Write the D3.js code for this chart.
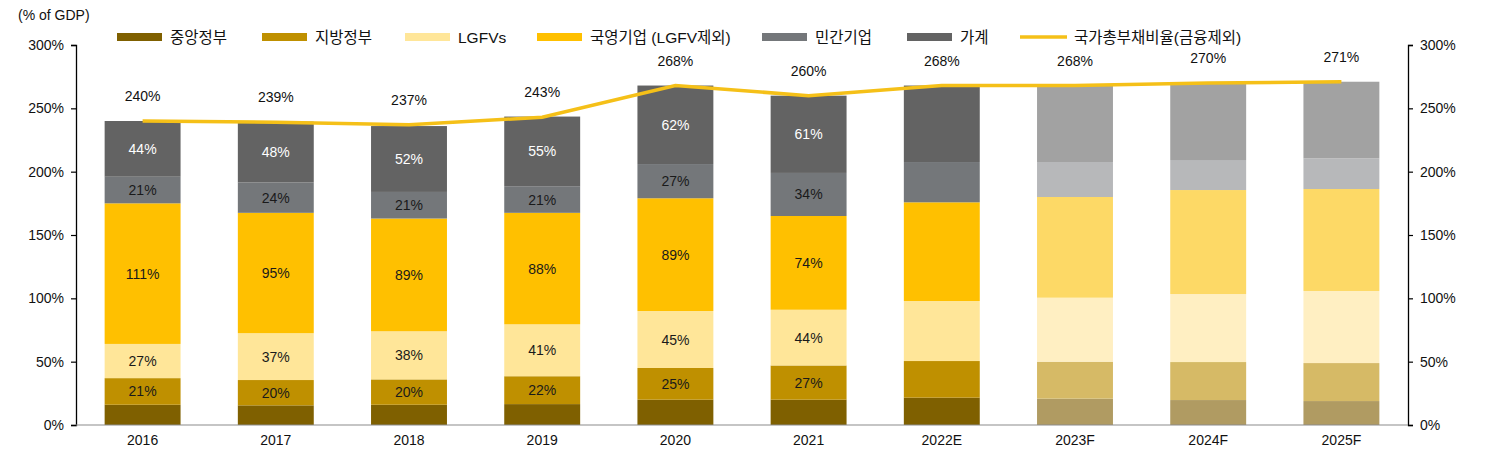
<!DOCTYPE html>
<html>
<head>
<meta charset="utf-8">
<script src="https://cdn.jsdelivr.net/npm/d3@7"></script>
<style>
  body { margin: 0; background: #fff; }
  svg text { font-family: "Liberation Sans", Arial, "Noto Sans CJK KR", sans-serif; }
</style>
</head>
<body>
<svg id="chart" width="1494" height="461"></svg>
<script>

// 연도
const years = ["2016", "2017", "2018", "2019", "2020", "2021", "2022E", "2023F", "2024F", "2025F"];

// 부문별 부채 (% of GDP)
const central   = [16, 15.5, 16, 16.5, 20, 20, 21.6, 20.8, 19.7, 18.9];
const local     = [21, 20, 20, 22, 25, 27, 28.9, 29.2, 30.0, 30.0];
const lgfv      = [27, 37, 38, 41, 45, 44, 47.4, 50.5, 53.7, 56.9];
const soe       = [111, 95, 89, 88, 89, 74, 77.9, 79.5, 82.1, 80.5];
const privateCo = [21, 24, 21, 21, 27, 34, 31.8, 27.6, 23.7, 24.2];
const household = [44, 48, 52, 55, 62, 61, 60.4, 60.4, 60.8, 60.5];

// 국가총부채비율(금융제외)
const totals = [240, 239, 237, 243, 268, 260, 268, 268, 270, 271];

// 축 눈금
const yTicks = [0, 50, 100, 150, 200, 250, 300];

// 범례 이름
const seriesNames = ["중앙정부", "지방정부", "LGFVs", "국영기업 (LGFV제외)", "민간기업", "가계"];
const lineName = "국가총부채비율(금융제외)";

// 색 (실적 / 전망)
const colorsActual   = ["#7f6000", "#bf9000", "#ffe699", "#ffc000", "#74777a", "#636363"];
const colorsForecast = ["#b09b62", "#d6ba66", "#ffefc2", "#fdd966", "#b7b8ba", "#a2a2a2"];
const lineColor = "#f5c018";

const seriesValues = [central, local, lgfv, soe, privateCo, household];
const labeledYears = 6;   // 2016~2021 만 라벨 표시

const svg = d3.select("#chart");

// 영역
const ml = 76, mr = 86, mt = 45, mb = 36;
const W = 1494, H = 461;
const fs = "14px";

const x = d3.scaleBand()
  .domain(years)
  .range([ml, W - mr])
  .paddingInner(0.43)
  .paddingOuter(0.215);

const y = d3.scaleLinear()
  .domain([0, 300])
  .range([H - mb, mt]);

// 스택 데이터
const rows = years.map((yr, i) => {
  const r = { year: yr, idx: i };
  seriesNames.forEach((n, k) => { r[n] = seriesValues[k][i]; });
  return r;
});
const stacked = d3.stack().keys(seriesNames)(rows);

// 막대
stacked.forEach((layer, k) => {
  svg.append("g")
    .selectAll("rect")
    .data(layer)
    .enter()
    .append("rect")
    .attr("x", d => x(d.data.year))
    .attr("width", x.bandwidth())
    .attr("y", d => y(d[1]))
    .attr("height", d => y(d[0]) - y(d[1]))
    .attr("fill", d => d.data.idx < labeledYears || d.data.year === "2022E" ? colorsActual[k] : colorsForecast[k]);
});

// 막대 안 라벨 (중앙정부 제외)
stacked.forEach((layer, k) => {
  if (k === 0) return;
  svg.append("g")
    .selectAll("text")
    .data(layer.filter(d => d.data.idx < labeledYears))
    .enter()
    .append("text")
    .attr("x", d => x(d.data.year) + x.bandwidth() / 2)
    .attr("y", d => (y(d[0]) + y(d[1])) / 2)
    .attr("text-anchor", "middle")
    .attr("dominant-baseline", "central")
    .attr("font-size", fs)
    .attr("fill", k === 5 ? "#ffffff" : "#1a1a1a")
    .text(d => Math.round(d[1] - d[0]) + "%");
});

// 축
const fmt = d => d + "%";
const yAxisL = svg.append("g")
  .attr("transform", `translate(${ml},0)`)
  .call(d3.axisLeft(y).tickValues(yTicks).tickFormat(fmt).tickSize(5).tickPadding(7));
const yAxisR = svg.append("g")
  .attr("transform", `translate(${W - mr},0)`)
  .call(d3.axisRight(y).tickValues(yTicks).tickFormat(fmt).tickSize(5).tickPadding(7));
[yAxisL, yAxisR].forEach(a => {
  a.select(".domain").attr("stroke", "#000").attr("stroke-width", 1.3);
  a.selectAll(".tick line").attr("stroke", "#000").attr("stroke-width", 1.2);
  a.selectAll("text").attr("font-size", fs).attr("fill", "#111");
});

const xAxis = svg.append("g")
  .attr("transform", `translate(0,${H - mb})`)
  .call(d3.axisBottom(x).tickSize(0).tickPadding(10));
xAxis.select(".domain").attr("stroke", "#8c8c8c").attr("stroke-width", 1.2)
  .attr("d", `M${ml},0H${W - mr}`);
xAxis.selectAll("text").attr("font-size", fs).attr("fill", "#111");

// 총부채 선
const cx = d => x(d) + x.bandwidth() / 2;
const line = d3.line()
  .x((d, i) => cx(years[i]))
  .y(d => y(d));
svg.append("path")
  .datum(totals)
  .attr("fill", "none")
  .attr("stroke", lineColor)
  .attr("stroke-width", 3.5)
  .attr("d", line);

// 총부채 라벨
svg.append("g")
  .selectAll("text")
  .data(totals)
  .enter()
  .append("text")
  .attr("x", (d, i) => cx(years[i]))
  .attr("y", d => y(d) - 25)
  .attr("text-anchor", "middle")
  .attr("dominant-baseline", "central")
  .attr("font-size", fs)
  .attr("fill", "#111")
  .text(d => d + "%");

// 단위
svg.append("text")
  .attr("x", 18)
  .attr("y", 20)
  .attr("font-size", fs)
  .attr("fill", "#111")
  .text("(% of GDP)");

// 범례
const legendX = [117, 262, 405, 537, 762, 907, 1020];
const legendY = 37;
const lg = svg.append("g").attr("class", "legend");
seriesNames.forEach((n, k) => {
  lg.append("rect")
    .attr("x", legendX[k])
    .attr("y", legendY - 4)
    .attr("width", 45)
    .attr("height", 8)
    .attr("fill", colorsActual[k]);
  lg.append("text")
    .attr("x", legendX[k] + 53)
    .attr("y", legendY)
    .attr("dominant-baseline", "central")
    .attr("font-size", "15.5px")
    .attr("fill", "#111")
    .text(n);
});
lg.append("line")
  .attr("x1", legendX[6])
  .attr("x2", legendX[6] + 47)
  .attr("y1", legendY)
  .attr("y2", legendY)
  .attr("stroke", lineColor)
  .attr("stroke-width", 3.5);
lg.append("text")
  .attr("x", legendX[6] + 54)
  .attr("y", legendY)
  .attr("dominant-baseline", "central")
  .attr("font-size", "15.5px")
  .attr("fill", "#111")
  .text(lineName);

</script>
</body>
</html>
